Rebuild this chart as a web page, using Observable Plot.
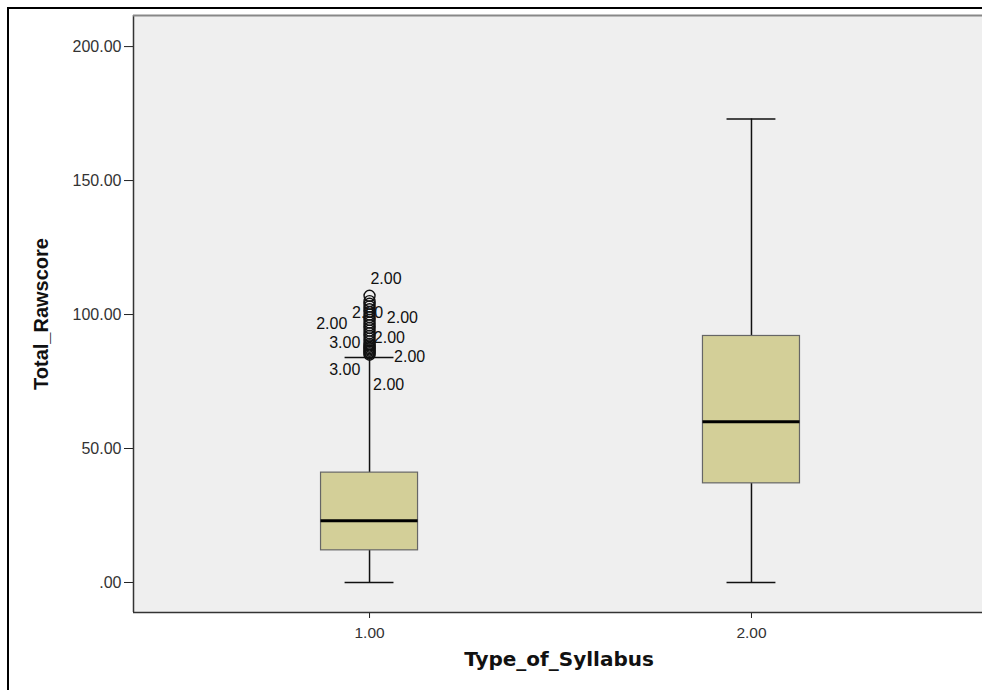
<!DOCTYPE html>
<html><head><meta charset="utf-8">
<script src="https://cdn.jsdelivr.net/npm/d3@7"></script>
<script src="https://cdn.jsdelivr.net/npm/@observablehq/plot@0.6"></script>
<style>
html,body{margin:0;padding:0;background:#fff;overflow:hidden;width:982px;height:690px;}
#frame{position:absolute;left:7px;top:7px;width:2000px;height:2000px;border:2px solid #000;box-sizing:border-box;pointer-events:none;}
#chart{position:absolute;left:0;top:0;width:982px;height:690px;overflow:hidden;}
#chart svg{max-width:none !important;width:1000px;height:690px;}
</style>
</head><body>
<div id="chart"></div>
<div id="frame"></div>
<script>
// Categories and box statistics
const categories = [1, 2];
const whiskerLow = [0, 0];
const q1 = [12, 37];
const median = [23, 60];
const q3 = [41, 92];
const whiskerHigh = [84, 173];

// Outliers of category 1
const outlierValues = [85, 85.5, 86, 86.5, 87, 87.5, 88, 88.5, 89, 90, 91, 92, 93, 94, 95, 96, 97, 98, 99, 100, 101, 102, 103, 104, 105, 107];

// Outlier case labels (text, x in category units, y in value units)
const labelText = ["2.00", "2.00", "2.00", "2.00", "3.00", "2.00", "2.00", "3.00", "2.00"];
const labelX = [1.043, 0.901, 0.995, 1.086, 0.935, 1.052, 1.105, 0.935, 1.050];
const labelY = [113.4, 96.6, 100.7, 98.9, 89.6, 91.4, 84.3, 79.5, 73.9];

const yTicks = [0, 50, 100, 150, 200];
const xTicks = [1, 2];

const boxes = categories.map((c, i) => ({cat: c, lo: whiskerLow[i], q1: q1[i], med: median[i], q3: q3[i], hi: whiskerHigh[i]}));
const outliers = outlierValues.map(v => ({cat: 1, v}));
const labels = labelText.map((t, i) => ({t, x: labelX[i], y: labelY[i]}));

// plot area continues past the right edge of the picture
const xDomain = [0.382, 2.652];
const yDomain = [-11.2, 211.6];
const boxHalf = 0.127;
const capHalf = 0.064;
const fmt = d => d === 0 ? ".00" : d.toFixed(2);
const narrow = "'Liberation Sans Narrow', 'Arial Narrow', 'Liberation Sans', Arial, sans-serif";
const sans = "'Liberation Sans', Arial, sans-serif";
const wide = "'DejaVu Sans', Verdana, sans-serif";

const chart = Plot.plot({
  width: 1000,
  height: 690,
  marginLeft: 133,
  marginRight: 0,
  marginTop: 15,
  marginBottom: 78,
  style: {fontFamily: sans, fontSize: "16px", color: "#333", background: "transparent", maxWidth: "none"},
  x: {type: "linear", domain: xDomain},
  y: {domain: yDomain},
  marks: [
    Plot.frame({fill: "#efefef", stroke: "none"}),
    Plot.axisY({ticks: yTicks, tickFormat: fmt, tickSize: 9, tickPadding: 3, label: null, fontSize: 16, stroke: "#222", fill: "#333"}),
    Plot.axisX({ticks: xTicks, tickFormat: fmt, tickSize: 6, tickPadding: 8, label: null, fontSize: 15.5, stroke: "#222", fill: "#333"}),
    // whiskers
    Plot.ruleX(boxes, {x: "cat", y1: "q3", y2: "hi", stroke: "#111", strokeWidth: 1.5}),
    Plot.ruleX(boxes, {x: "cat", y1: "lo", y2: "q1", stroke: "#111", strokeWidth: 1.5}),
    Plot.ruleY(boxes, {y: "hi", x1: d => d.cat - capHalf, x2: d => d.cat + capHalf, stroke: "#111", strokeWidth: 1.5}),
    Plot.ruleY(boxes, {y: "lo", x1: d => d.cat - capHalf, x2: d => d.cat + capHalf, stroke: "#111", strokeWidth: 1.5}),
    // boxes
    Plot.rect(boxes, {x1: d => d.cat - boxHalf, x2: d => d.cat + boxHalf, y1: "q1", y2: "q3", fill: "#d3cf98", stroke: "#666", strokeWidth: 1.2}),
    Plot.ruleY(boxes, {y: "med", x1: d => d.cat - boxHalf, x2: d => d.cat + boxHalf, stroke: "#000", strokeWidth: 3}),
    // outlier labels (behind circles)
    Plot.text(labels, {x: "x", y: "y", text: "t", fontSize: 16, fill: "#111", fontFamily: sans}),
    // outliers
    Plot.dot(outliers, {x: "cat", y: "v", r: 5.5, stroke: "#111", strokeWidth: 1.4, fill: "none"}),
    // plot area border: left, top, bottom
    Plot.ruleX([xDomain[0]], {stroke: "#333", strokeWidth: 1.5}),
    Plot.ruleY([yDomain[1]], {stroke: "#888", strokeWidth: 2}),
    Plot.ruleY([yDomain[0]], {stroke: "#333", strokeWidth: 1.5}),
    // axis titles
    Plot.text(["Total_Rawscore"], {frameAnchor: "left", textAnchor: "middle", dx: -92, rotate: -90, fontSize: 20, fontWeight: "bold", fontFamily: narrow, fill: "#111"}),
    Plot.text(["Type_of_Syllabus"], {frameAnchor: "bottom", textAnchor: "middle", dx: -8, dy: 53, fontSize: 20, fontWeight: "bold", fontFamily: wide, fill: "#111"})
  ]
});
document.getElementById("chart").appendChild(chart);
</script>
</body></html>
